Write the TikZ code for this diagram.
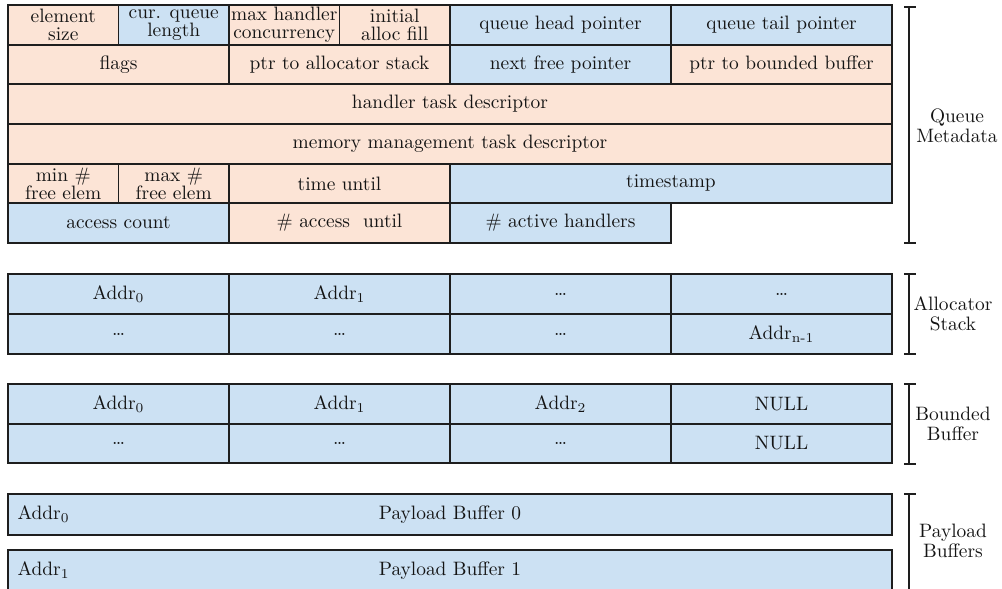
\documentclass[tikz,border=0pt]{standalone}
\usepackage{xcolor}
\definecolor{cblue}{RGB}{204,225,243}
\definecolor{cpeach}{RGB}{252,228,214}
\definecolor{cline}{RGB}{30,30,30}
\definecolor{ctext}{RGB}{20,20,20}
\tikzset{
  cellbox/.style={draw=cline, line width=0.75pt, inner sep=0pt, align=center, text=ctext,
    font=\fontsize{9.7}{9}\selectfont},
  sidelabel/.style={align=center, text=ctext, font=\fontsize{9.7}{10}\selectfont},
  plainlabel/.style={text=ctext, font=\fontsize{9.7}{9}\selectfont, inner sep=0pt},
  bracketline/.style={draw=cline, line width=0.75pt},
}
% name, x1, y1, x2, y2, colour, text   (coordinates in reference pixels, 1px = 0.5pt)
\newcommand\mkcell[7]{%
  \pgfmathsetmacro\cx{(#2+#4)/2}\pgfmathsetmacro\cy{(#3+#5)/2}%
  \pgfmathsetmacro\cw{(#4-#2)*0.5}\pgfmathsetmacro\ch{(#5-#3)*0.5}%
  \node[cellbox, fill=#6, minimum width=\cw pt, minimum height=\ch pt] (#1) at (\cx,\cy) {#7};}
% name, top, bottom, label y, label text, label x, bottom tick (1/0)
\newcommand\mkbracket[7]{%
  \coordinate (#1t) at (909,#2); \coordinate (#1b) at (909,#3);
  \draw[bracketline] (#1t) -- (#1b);
  \draw[bracketline] ([xshift=-2.5pt]#1t) -- ([xshift=3.5pt]#1t);
  \ifnum#7=1 \draw[bracketline] ([xshift=-2.5pt]#1b) -- ([xshift=3.5pt]#1b);\fi
  \node[sidelabel] (#1l) at (#6,#4) {#5};}
\newcommand\ad[1]{Addr\textsubscript{#1}}
\begin{document}
\begin{tikzpicture}[x=0.5pt,y=-0.5pt]
\useasboundingbox (0,0) rectangle (1002,589);
% ---- Queue metadata ----
\mkcell{c11}{8}{5}{118.5}{45}{cpeach}{element\\size}
\mkcell{c12}{118.5}{5}{229}{45}{cblue}{cur. queue\\length}
\mkcell{c13}{229}{5}{339.5}{45}{cpeach}{max handler\\concurrency}
\mkcell{c14}{339.5}{5}{450}{45}{cpeach}{initial\\alloc fill}
\mkcell{c15}{450}{5}{671}{45}{cblue}{queue head pointer}
\mkcell{c16}{671}{5}{892}{45}{cblue}{queue tail pointer}
\mkcell{c21}{8}{45}{229}{84}{cpeach}{flags}
\mkcell{c22}{229}{45}{450}{84}{cpeach}{ptr to allocator stack}
\mkcell{c23}{450}{45}{671}{84}{cblue}{next free pointer}
\mkcell{c24}{671}{45}{892}{84}{cpeach}{ptr to bounded buffer}
\mkcell{c31}{8}{84}{892}{124}{cpeach}{handler task descriptor}
\mkcell{c41}{8}{124}{892}{164}{cpeach}{memory management task descriptor}
\mkcell{c51}{8}{164}{118.5}{203}{cpeach}{min \#\\free elem}
\mkcell{c52}{118.5}{164}{229}{203}{cpeach}{max \#\\free elem}
\mkcell{c53}{229}{164}{450}{203}{cpeach}{time until}
\mkcell{c54}{450}{164}{892}{203}{cblue}{timestamp}
\mkcell{c61}{8}{203}{229}{243}{cblue}{access count}
\mkcell{c62}{229}{203}{450}{243}{cpeach}{\# access\ \ until}
\mkcell{c63}{450}{203}{671}{243}{cblue}{\# active handlers}
% ---- Allocator stack ----
\mkcell{a11}{8}{274}{229}{314}{cblue}{\ad{0}}
\mkcell{a12}{229}{274}{450}{314}{cblue}{\ad{1}}
\mkcell{a13}{450}{274}{671}{314}{cblue}{\dots}
\mkcell{a14}{671}{274}{892}{314}{cblue}{\dots}
\mkcell{a21}{8}{314}{229}{354}{cblue}{\dots}
\mkcell{a22}{229}{314}{450}{354}{cblue}{\dots}
\mkcell{a23}{450}{314}{671}{354}{cblue}{\dots}
\mkcell{a24}{671}{314}{892}{354}{cblue}{\ad{n-1}}
% ---- Bounded buffer ----
\mkcell{b11}{8}{384}{229}{424}{cblue}{\ad{0}}
\mkcell{b12}{229}{384}{450}{424}{cblue}{\ad{1}}
\mkcell{b13}{450}{384}{671}{424}{cblue}{\ad{2}}
\mkcell{b14}{671}{384}{892}{424}{cblue}{NULL}
\mkcell{b21}{8}{424}{229}{463}{cblue}{\dots}
\mkcell{b22}{229}{424}{450}{463}{cblue}{\dots}
\mkcell{b23}{450}{424}{671}{463}{cblue}{\dots}
\mkcell{b24}{671}{424}{892}{463}{cblue}{NULL}
% ---- Payload buffers ----
\mkcell{p0}{8}{494}{892}{535}{cblue}{Payload Buffer 0}
\mkcell{p1}{8}{550}{892}{591}{cblue}{Payload Buffer 1}
\node[plainlabel, anchor=west] (p0a) at ([xshift=5pt]p0.west) {\ad{0}};
\node[plainlabel, anchor=west] (p1a) at ([xshift=5pt]p1.west) {\ad{1}};
% ---- Brackets ----
\mkbracket{qm}{7}{243}{126}{Queue\\Metadata}{957}{1}
\mkbracket{as}{274}{354}{314}{Allocator\\Stack}{953}{1}
\mkbracket{bb}{384}{464}{424}{Bounded\\Buffer}{953}{1}
\mkbracket{pb}{494}{600}{541}{Payload\\Buffers}{953}{0}
\end{tikzpicture}
\end{document}
